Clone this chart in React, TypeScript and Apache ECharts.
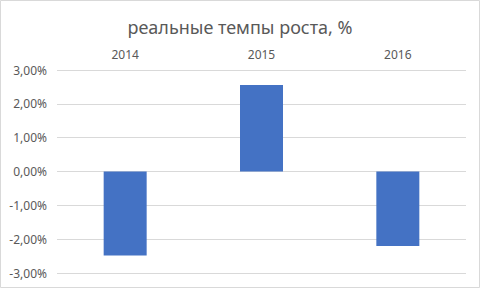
import React, { useEffect, useRef } from "react";
import * as echarts from "echarts";

const categories = ["2014", "2015", "2016"];
const growthValues = [-2.48, 2.56, -2.2];
const yTicks = { min: -3, max: 3, interval: 1 };

export default function App() {
  const ref = useRef<HTMLDivElement>(null);
  useEffect(() => {
    document.body.style.margin = "0";
    const chart = echarts.init(ref.current!, null, { renderer: "svg" });
    chart.setOption({
      animation: false,
      backgroundColor: "#ffffff",
      textStyle: { fontFamily: "Noto Sans" },
      title: {
        text: "реальные темпы роста, %",
        left: "center",
        top: 13,
        textStyle: { fontSize: 18, fontWeight: "normal", color: "#595959", fontFamily: "Noto Sans" },
      },
      graphic: [
        {
          type: "rect",
          shape: { x: 0.5, y: 0.5, width: 479, height: 287 },
          style: { fill: "none", stroke: "#d9d9d9", lineWidth: 1 },
          silent: true,
        },
      ],
      grid: { left: 57, right: 14, top: 70, bottom: 15 },
      xAxis: {
        type: "category",
        data: categories,
        position: "top",
        axisLine: { show: false },
        axisTick: { show: false },
        axisLabel: { color: "#595959", fontSize: 12, margin: 10 },
      },
      yAxis: {
        type: "value",
        min: yTicks.min,
        max: yTicks.max,
        interval: yTicks.interval,
        axisLine: { show: false },
        axisTick: { show: false },
        splitLine: { lineStyle: { color: "#d9d9d9", width: 1 } },
        axisLabel: {
          color: "#595959",
          fontSize: 12,
          margin: 10,
          formatter: (v: number) => v.toFixed(2).replace(".", ",") + "%",
        },
      },
      series: [
        {
          type: "bar",
          data: growthValues,
          barWidth: 43,
          itemStyle: { color: "#4472c4" },
        },
      ],
    });
    return () => chart.dispose();
  }, []);
  return <div ref={ref} style={{ width: 480, height: 288 }} />;
}
